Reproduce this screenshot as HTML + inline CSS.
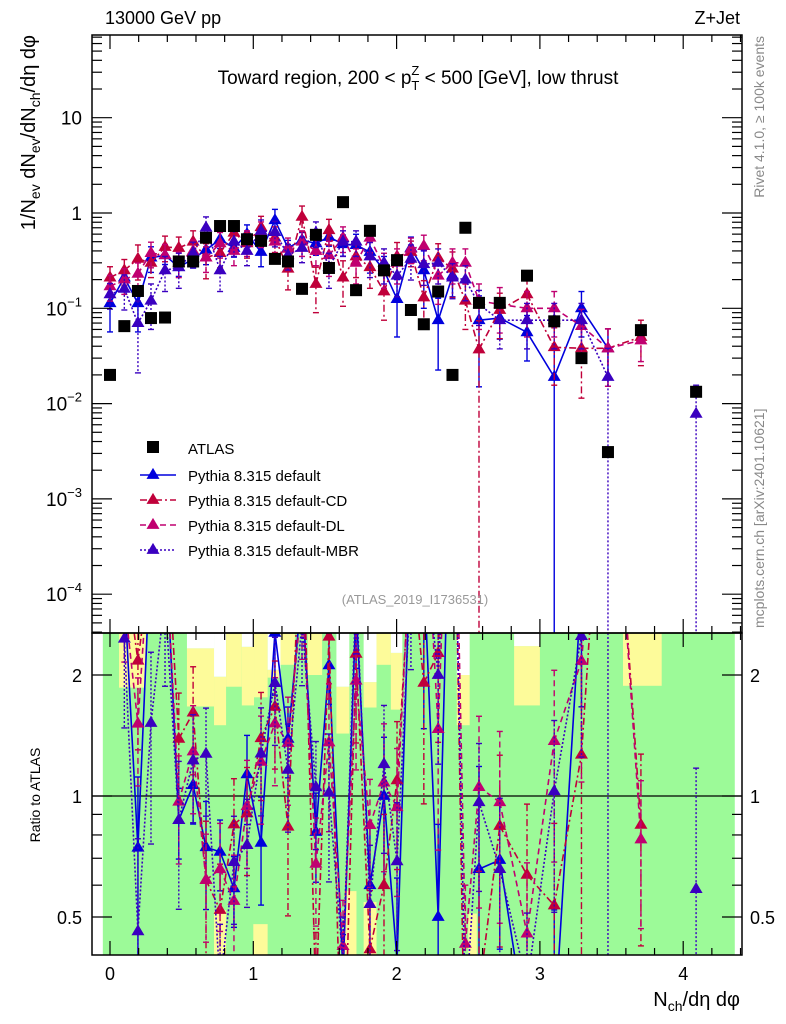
<!DOCTYPE html>
<html><head><meta charset="utf-8"><style>
html,body{margin:0;padding:0;background:#fff;width:786px;height:1024px;overflow:hidden}
svg{display:block;font-family:"Liberation Sans",sans-serif}
</style></head><body>
<svg id="chart" width="786" height="1024" viewBox="0 0 786 1024">
<defs>
<clipPath id="cm"><rect x="92" y="35" width="650" height="598"/></clipPath>
<clipPath id="cr"><rect x="92" y="633" width="650" height="322"/></clipPath>
</defs>
<g id="ratioBands" clip-path="url(#cr)"></g>
<g id="mainMarks" clip-path="url(#cm)"></g>
<g id="ratioMarks" clip-path="url(#cr)"></g>
<g id="axes"></g>
<text x="105" y="24" font-size="18">13000 GeV pp</text>
<text x="740" y="24" font-size="18" text-anchor="end">Z+Jet</text>
<text x="418" y="84" font-size="19" text-anchor="middle">Toward region, 200 &lt; p<tspan dy="6" font-size="13">T</tspan><tspan dx="-8" dy="-15" font-size="13">Z</tspan><tspan dy="9"> &lt; 500 [GeV], low thrust</tspan></text>
<text x="415" y="604" font-size="13" fill="#999" text-anchor="middle">(ATLAS_2019_I1736531)</text>
<text transform="translate(764,36) rotate(-90)" font-size="14" fill="#888" text-anchor="end">Rivet 4.1.0, ≥ 100k events</text>
<text transform="translate(764,628) rotate(-90)" font-size="14" fill="#888">mcplots.cern.ch [arXiv:2401.10621]</text>
<text transform="translate(35,35) rotate(-90)" font-size="20" text-anchor="end">1/N<tspan dy="5" font-size="14">ev</tspan><tspan dy="-5"> dN</tspan><tspan dy="5" font-size="14">ev</tspan><tspan dy="-5">/dN</tspan><tspan dy="5" font-size="14">ch</tspan><tspan dy="-5">/dη dφ</tspan></text>
<text transform="translate(40,795) rotate(-90)" font-size="14" text-anchor="middle">Ratio to ATLAS</text>
<text x="740" y="1006" font-size="20" text-anchor="end">N<tspan dy="5" font-size="14">ch</tspan><tspan dy="-5">/dη dφ</tspan></text>
<g id="legend"></g>
</svg>
<script>
const xs=[0,0.10,0.195,0.286,0.384,0.48,0.58,0.67,0.768,0.865,0.956,1.054,1.151,1.242,1.34,1.437,1.528,1.626,1.717,1.814,1.912,2.003,2.10,2.19,2.29,2.39,2.48,2.575,2.72,2.91,3.10,3.29,3.475,3.705,4.09];
const atlas=[0.020,0.065,0.152,0.079,0.080,0.31,0.31,0.55,0.73,0.73,0.53,0.51,0.33,0.31,0.16,0.59,0.265,1.30,0.155,0.65,0.25,0.32,0.096,0.068,0.15,0.020,0.70,0.114,0.114,0.22,0.073,0.030,0.0031,0.059,0.0133];
const pyDefault=[0.113,0.21,0.113,0.34,0.36,0.27,0.33,0.41,0.53,0.43,0.60,0.39,0.84,0.43,0.52,0.48,0.56,0.47,0.46,0.39,0.25,0.125,0.43,0.25,0.075,0.22,null,0.075,0.079,0.056,0.019,0.10,0.038,null,null];
const pyCD=[0.21,0.25,0.33,0.30,0.44,0.43,0.50,0.34,0.38,0.62,0.48,0.71,0.55,0.26,0.91,0.18,0.66,0.21,0.35,0.27,0.15,0.35,0.39,0.13,0.34,0.26,0.12,0.037,0.096,0.14,0.039,0.038,0.038,0.05,null];
const pyDL=[0.17,0.20,0.23,0.38,0.36,0.30,0.40,0.34,0.48,0.40,0.50,0.62,0.50,0.42,0.50,0.40,0.36,0.55,0.30,0.55,0.27,0.30,0.42,0.45,0.22,0.30,0.30,0.12,0.11,0.10,0.10,0.065,0.038,0.046,null];
const pyMBR=[0.14,0.16,0.07,0.12,0.25,0.27,0.38,0.70,0.25,0.50,0.40,0.65,0.63,0.36,0.43,0.62,0.27,0.50,0.50,0.35,0.30,0.22,0.33,0.29,0.30,0.21,0.20,0.11,0.075,0.075,0.075,0.075,0.019,null,0.0078];
const errDefault=[0.5,0.2,0.5,0.3,0.2,0.2,0.2,0.3,0.2,0.2,0.25,0.3,0.3,0.2,0.2,0.25,0.2,0.25,0.3,0.4,0.4,0.6,0.3,0.6,0.7,0.4,0,0.8,0.4,0.5,1,0.5,0.6,0,0];
const errCD=[0.3,0.3,0.4,0.3,0.3,0.3,0.3,0.4,0.3,0.3,0.3,0.3,0.3,0.4,0.3,0.5,0.3,0.5,0.4,0.4,0.5,0.4,0.3,0.5,0.4,0.5,0.5,1,0.5,0.5,0.6,0.7,0.6,0.5,0];
const errDL=[0.3,0.3,0.3,0.3,0.3,0.3,0.3,0.3,0.3,0.3,0.3,0.3,0.3,0.3,0.3,0.3,0.4,0.3,0.4,0.3,0.4,0.4,0.3,0.3,0.5,0.4,0.4,0.5,0.5,0.5,0.5,0.5,0.6,0.4,0];
const errMBR=[0.3,0.4,0.7,0.5,0.4,0.4,0.3,0.3,0.4,0.3,0.3,0.3,0.3,0.3,0.3,0.3,0.4,0.3,0.3,0.4,0.4,0.4,0.4,0.4,0.4,0.4,0.4,0.4,0.5,0.5,0.5,0.5,1,0,1];
const seriesNames=["Pythia 8.315 default","Pythia 8.315 default-CD","Pythia 8.315 default-DL","Pythia 8.315 default-MBR"];
const bandX0=[0.063,0.537,0.726,0.81,0.92,1.005,1.10,1.19,1.38,1.58,1.77,1.86,1.96,2.42,2.82,3.58];
const bandX1=[0.25,0.726,0.81,0.92,1.005,1.10,1.19,1.29,1.48,1.67,1.86,1.96,2.04,2.51,3.0,3.85];
const bandWhite=[2.6,2.33,1.98,2.6,2.35,2.6,2.06,2.6,2.6,1.87,1.92,2.6,2.27,2.0,2.36,2.6];
const bandYellow=[1.86,1.67,1.50,1.87,1.68,1.76,1.97,2.12,2.0,1.43,1.66,2.12,1.64,1.50,1.68,1.88];
const lowX0=[0.726,1.64,1.77,2.50,1.00];
const lowX1=[0.81,1.72,1.86,2.56,1.10];
const lowTop=[0.52,0.58,0.545,0.51,0.48];

const NS="http://www.w3.org/2000/svg";
const X=x=>110+x*143.3;
const Y=v=>213-Math.log10(v)*95.3;
const R=r=>796-Math.log2(r)*121;
function el(tag,attrs,parent){const e=document.createElementNS(NS,tag);for(const k in attrs)e.setAttribute(k,attrs[k]);parent.appendChild(e);return e;}
const gb=document.getElementById('ratioBands'),gm=document.getElementById('mainMarks'),gr=document.getElementById('ratioMarks'),ga=document.getElementById('axes'),gl=document.getElementById('legend');

let g=el('rect',{x:X(-0.05),y:633,width:X(4.36)-X(-0.05),height:322,fill:'#9cfa98'},gb);


for(let i=0;i<bandX0.length;i++){
 const y=el('rect',{x:X(bandX0[i]),y:R(bandWhite[i]),width:X(bandX1[i])-X(bandX0[i]),height:R(bandYellow[i])-R(bandWhite[i]),fill:'#fdfb9a'},gb);
 
 
 if(bandWhite[i]<2.6){const w=el('rect',{x:X(bandX0[i]),y:633,width:X(bandX1[i])-X(bandX0[i]),height:R(bandWhite[i])-633,fill:'#fff'},gb);
 
 }
}
for(let i=0;i<lowX0.length;i++){
 const y=el('rect',{x:X(lowX0[i]),y:R(lowTop[i]),width:X(lowX1[i])-X(lowX0[i]),height:955-R(lowTop[i]),fill:'#fdfb9a'},gb);
 
 
}
el('line',{x1:92,x2:742,y1:R(1),y2:R(1),stroke:'#000','stroke-width':1.3},gb);

const series=[
 {v:pyDefault,e:errDefault,c:'#0000dd',d:'',n:'series-default'},
 {v:pyCD,e:errCD,c:'#c0003a',d:'7,3,2,3',n:'series-default-cd'},
 {v:pyDL,e:errDL,c:'#c00070',d:'6,4',n:'series-default-dl'},
 {v:pyMBR,e:errMBR,c:'#3a00c0',d:'2,2',n:'series-default-mbr'}];
function tri(cx,cy,c,parent,name){const s=6.5;const p=el('polygon',{points:`${cx-s},${cy+s*0.6} ${cx+s},${cy+s*0.6} ${cx},${cy-s*1.1}`,fill:c},parent);
 
 }
// clip a segment to y range [ymin,ymax]
function clipSeg(a,b,ymin,ymax){let [x1,y1]=a,[x2,y2]=b;
 if((y1<ymin&&y2<ymin)||(y1>ymax&&y2>ymax))return null;
 const f=(yt)=>x1+(x2-x1)*(yt-y1)/(y2-y1);
 let p=[x1,y1],q=[x2,y2];
 if(y1<ymin)p=[f(ymin),ymin];else if(y1>ymax)p=[f(ymax),ymax];
 if(y2<ymin)q=[f(ymin),ymin];else if(y2>ymax)q=[f(ymax),ymax];
 return [p,q];}
function drawSeries(s,parent,mapY,ratio,ymin,ymax){
 const gs=el('g',{},parent);
 
 
 const cl=y=>Math.max(ymin,Math.min(ymax,y));
 let prev=null,d='';
 s.v.forEach((v,i)=>{if(v==null){prev=null;return;}
  const val=ratio?v/atlas[i]:v;const pt=[X(xs[i]),mapY(val)];
  if(prev){const c=clipSeg(prev,pt,ymin,ymax);if(c)d+=`M${c[0][0].toFixed(1)},${c[0][1].toFixed(1)}L${c[1][0].toFixed(1)},${c[1][1].toFixed(1)}`;}
  prev=pt;});
 if(d)el('path',{d:d,fill:'none',stroke:s.c,'stroke-width':1.6,'stroke-dasharray':s.d},gs);
 s.v.forEach((v,i)=>{if(v==null)return;const val=ratio?v/atlas[i]:v;const e=s.e[i];
  const hiR=mapY(val*(1+e)),loR=e>=1?ymax+50:mapY(val*(1-e));const x=X(xs[i]);
  if(loR<ymin||hiR>ymax)return;
  const hi=cl(hiR),lo=cl(loR);
  el('line',{x1:x,x2:x,y1:hi,y2:lo,stroke:s.c,'stroke-width':1.4,'stroke-dasharray':s.d},gs);
  if(hiR>=ymin)el('line',{x1:x-3,x2:x+3,y1:hi,y2:hi,stroke:s.c,'stroke-width':1.4},gs);
  if(loR<=ymax)el('line',{x1:x-3,x2:x+3,y1:lo,y2:lo,stroke:s.c,'stroke-width':1.4},gs);
  const cy=mapY(val);if(cy>ymin-8&&cy<ymax+8)tri(x,cy,s.c,gs,'marker');});
}
series.forEach(s=>drawSeries(s,gm,Y,false,35,633));
atlas.forEach((v,i)=>{const r=el('rect',{x:X(xs[i])-6,y:Y(v)-6,width:12,height:12,fill:'#000'},gm);
 
 });
series.forEach(s=>drawSeries(s,gr,R,true,633,955));

el('rect',{x:92,y:35,width:650,height:598,fill:'none',stroke:'#000','stroke-width':1.5},ga);
el('rect',{x:92,y:633,width:650,height:322,fill:'none',stroke:'#000','stroke-width':1.5},ga);
for(let k=0;k<=22;k++){const xv=k*0.2;if(xv>4.4)break;const x=X(xv);const maj=Math.abs(xv-Math.round(xv))<1e-6;const L=maj?14:7;
 [[35,1],[633,-1],[633,1],[955,-1]].forEach(([y0,d])=>el('line',{x1:x,x2:x,y1:y0,y2:y0+d*L,stroke:'#000','stroke-width':1.2},ga));
 if(maj){const t=el('text',{x:x,y:980,'font-size':18,'text-anchor':'middle'},ga);t.textContent=Math.round(xv);
 
 }}
for(let d=-5;d<=1;d++){for(let m=1;m<=9;m++){const v=m*Math.pow(10,d);const y=Y(v);if(y<35||y>633)continue;const L=m==1?20:10;
 el('line',{x1:92,x2:92+L,y1:y,y2:y,stroke:'#000','stroke-width':1.2},ga);
 el('line',{x1:742,x2:742-L,y1:y,y2:y,stroke:'#000','stroke-width':1.2},ga);
 if(m==1){const t=el('text',{x:82,y:y+7,'font-size':19,'text-anchor':'end'},ga);
 
 
 if(d==0)t.textContent='1';else if(d==1)t.textContent='10';else{t.textContent='10';const ts=el('tspan',{dy:-9,'font-size':13},t);ts.textContent='−'+(-d);}}}}
[0.4,0.5,0.6,0.7,0.8,0.9,1,2].forEach(v=>{const y=R(v);if(y>955)return;const maj=(v==0.5||v==1||v==2);const L=maj?20:10;
 el('line',{x1:92,x2:92+L,y1:y,y2:y,stroke:'#000','stroke-width':1.2},ga);
 el('line',{x1:742,x2:742-L,y1:y,y2:y,stroke:'#000','stroke-width':1.2},ga);
 if(maj){[[82,'end'],[750,'start']].forEach(([x,a])=>{const t=el('text',{x:x,y:y+7,'font-size':18,'text-anchor':a},ga);t.textContent=v;
 
 });}});
const lr=el('rect',{x:147,y:441,width:12,height:12,fill:'#000'},gl);


const lt=el('text',{x:188,y:454,'font-size':15},gl);lt.textContent='ATLAS';


series.forEach((s,i)=>{const y=475+i*25;
 el('line',{x1:140,x2:176,y1:y,y2:y,stroke:s.c,'stroke-width':1.6,'stroke-dasharray':s.d},gl);
 tri(153,y,s.c,gl,'legend-marker');
 const t=el('text',{x:188,y:y+6,'font-size':15},gl);t.textContent=seriesNames[i];
 
 });
</script>
</body></html>
